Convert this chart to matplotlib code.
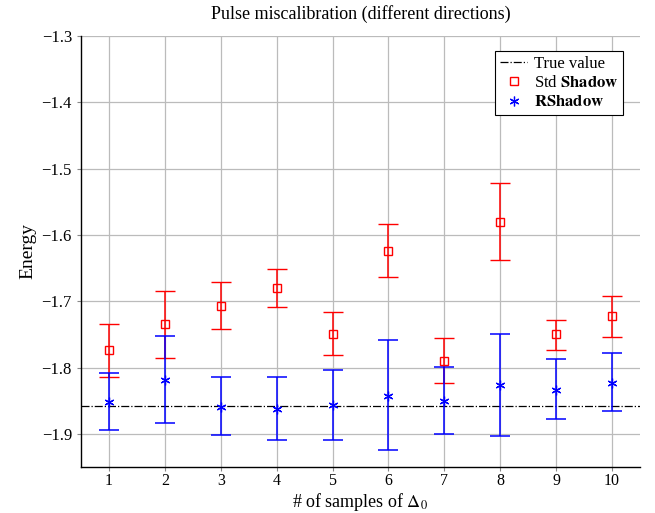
import matplotlib
matplotlib.use("Agg")
import matplotlib.pyplot as plt
from matplotlib.lines import Line2D
import numpy as np

plt.rcParams['font.family'] = ['Liberation Serif', 'DejaVu Serif']
plt.rcParams['mathtext.fontset'] = 'stix'

samples = [1, 2, 3, 4, 5, 6, 7, 8, 9, 10]
true_value = -1.858

std_mean = [-1.774, -1.734, -1.707, -1.680, -1.749, -1.624, -1.790, -1.580, -1.750, -1.722]
std_upper = [-1.734, -1.684, -1.671, -1.652, -1.717, -1.584, -1.756, -1.522, -1.728, -1.692]
std_lower = [-1.815, -1.785, -1.742, -1.709, -1.781, -1.664, -1.824, -1.638, -1.773, -1.754]

r_mean = [-1.852, -1.819, -1.860, -1.863, -1.857, -1.843, -1.850, -1.827, -1.834, -1.823]
r_upper = [-1.809, -1.752, -1.815, -1.815, -1.804, -1.758, -1.799, -1.749, -1.787, -1.778]
r_lower = [-1.894, -1.884, -1.902, -1.909, -1.910, -1.925, -1.900, -1.903, -1.878, -1.866]

yticks = [-1.3, -1.4, -1.5, -1.6, -1.7, -1.8, -1.9]

fig = plt.figure(figsize=(6.55, 5.13), dpi=100)
ax = fig.add_axes([0.1237, 0.0897, 0.8533, 0.8401])

x = np.array(samples)
sm = np.array(std_mean)
rm = np.array(r_mean)

ax.axhline(true_value, color='black', linestyle='-.', linewidth=0.9, zorder=2)
ax.errorbar(x, sm, yerr=[sm - np.array(std_lower), np.array(std_upper) - sm],
            fmt='s', color='red', mfc='none', mec='red', markersize=6, mew=1.0,
            ecolor='red', elinewidth=1.1, capsize=7, capthick=1.1, zorder=3)
ax.errorbar(x, rm, yerr=[rm - np.array(r_lower), np.array(r_upper) - rm],
            fmt='none', ecolor='blue', elinewidth=1.1, capsize=7, capthick=1.1, zorder=3)
ax.plot(x, rm, linestyle='none', marker=(6, 2, 0), color='blue', markersize=7, mew=0.9,
        zorder=4)

ax.set_xlim(0.5, 10.5)
ax.set_ylim(-1.95, -1.3)
ax.set_xticks(samples)
ax.set_yticks(yticks)
ax.set_yticklabels(['\u2212' + f'{abs(v):.1f}' for v in yticks])
ax.grid(True, color='#bbbbbb', linewidth=0.9)
ax.set_axisbelow(True)
for s in ['top', 'right']:
    ax.spines[s].set_visible(False)
ax.spines['left'].set_linewidth(1.0)
ax.spines['bottom'].set_linewidth(1.0)
ax.tick_params(axis='both', labelsize=12, length=3, color='#888888', direction='out')
ax.tick_params(axis='x', labelsize=11.5, pad=1.5)

ax.set_title('Pulse miscalibration (different directions)', fontsize=13, pad=12)
ax.set_xlabel(r'# of samples of $\Delta_0$', fontsize=13)
ax.xaxis.set_label_coords(0.5, -0.056)
ax.set_ylabel('Energy', fontsize=14)

handles = [
    Line2D([], [], color='black', linestyle='-.', linewidth=0.9),
    Line2D([], [], linestyle='none', marker='s', mfc='none', mec='red', markersize=6, mew=1.0),
    Line2D([], [], linestyle='none', marker=(6, 2, 0), color='blue', markersize=7, mew=0.9),
]
labels = ['True value', r'Std $\mathbf{Shadow}$', r'$\mathbf{RShadow}$']
leg = ax.legend(handles, labels, loc='upper right', fontsize=12, frameon=True,
                fancybox=False, edgecolor='black', framealpha=1,
                handlelength=1.6, handletextpad=0.4, borderpad=0.3, labelspacing=0.2,
                bbox_to_anchor=(0.985, 0.985))
leg.get_frame().set_linewidth(0.8)

fig.savefig('out.png', dpi=100)
